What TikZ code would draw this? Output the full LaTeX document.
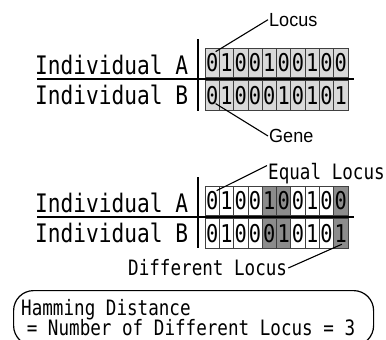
\documentclass[tikz,border=0pt]{standalone}
\usepackage{fontspec}
\usetikzlibrary{calc}
\newfontfamily\monof[FakeStretch=0.83]{DejaVu Sans Mono}
\newfontfamily\sansf[FakeStretch=0.95]{Liberation Sans}
\definecolor{lightcell}{gray}{0.85}
\definecolor{darkcell}{gray}{0.55}
\definecolor{gridline}{gray}{0.25}
\begin{document}
\begin{tikzpicture}[x=1pt,y=-1pt,
  gcell/.style={draw=gridline, line width=0.7pt, minimum width=14.3pt,
    minimum height=29.5pt, inner sep=0pt, anchor=center,
    font=\monof\fontsize{24.5}{24.5}\selectfont},
  indiv/.style={inner sep=0pt, anchor=base west, font=\monof\fontsize{25.5}{25.5}\selectfont},
  monolbl/.style={inner sep=1pt, font=\monof\fontsize{21.2}{21.2}\selectfont},
  sanslbl/.style={inner sep=1pt, font=\sansf\fontsize{19}{19}\selectfont},
  rule/.style={line width=1.4pt, black},
  conn/.style={line width=1.1pt, black}]
\useasboundingbox (0,0) rectangle (386,340);

% ---------- first pair ----------
\foreach \d [count=\i] in {0,1,0,0,1,0,0,1,0,0}
  \node[gcell, fill=lightcell] (ga\i) at ({205+(\i-0.5)*14.3}, 62.75) {\raisebox{-1.5pt}{\d}};
\foreach \d [count=\i] in {0,1,0,0,0,1,0,1,0,1}
  \node[gcell, fill=lightcell] (gb\i) at ({205+(\i-0.5)*14.3}, 95.25) {\d};

\node[indiv] (ia1) at (35,74) {Individual A};
\node[indiv] (ib1) at (35,104.5) {Individual B};
\draw[rule] (37,79) -- (354,79);
\draw[rule] (198,39) -- (198,111);

\node[sanslbl, anchor=west] (locus) at (268,19.7) {Locus};
\node[sanslbl, anchor=west] (gene) at (268,136) {Gene};
\draw[conn] ($(ga1.north)+(3.5,4)$) -- (locus.west);
\draw[conn] ($(gb1.south)+(3.5,-6.7)$) -- (gene.west);

% ---------- second pair ----------
\foreach \d/\f [count=\i] in {0/white,1/white,0/white,0/white,1/darkcell,0/darkcell,0/white,1/white,0/white,0/darkcell}
  \node[gcell, fill=\f] (ha\i) at ({205+(\i-0.5)*14.3}, 200.75) {\raisebox{-1.5pt}{\d}};
\foreach \d/\f [count=\i] in {0/white,1/white,0/white,0/white,0/darkcell,1/darkcell,0/white,1/white,0/white,1/darkcell}
  \node[gcell, fill=\f] (hb\i) at ({205+(\i-0.5)*14.3}, 233.25) {\d};

\node[indiv] (ia2) at (35,212) {Individual A};
\node[indiv] (ib2) at (35,242.5) {Individual B};
\draw[rule] (37,217) -- (354,217);
\draw[rule] (198,177) -- (198,248);

\node[monolbl, anchor=base west] (eq) at (267,179.5) {Equal Locus};
\node[monolbl, anchor=east] (diff) at (288.3,268) {Different Locus};
\draw[conn] ($(ha1.north)+(4.5,5)$) -- ($(eq.north west)+(0,3.5)$);
\draw[conn] ($(hb10.center)+(1,11)$) -- (diff.east);

% ---------- Hamming box ----------
\node[draw, line width=1.2pt, rounded corners=20pt, minimum width=360pt,
  minimum height=55pt, inner sep=0pt, anchor=north west] (hambox) at (13,290) {};
\node[monolbl, inner sep=0pt, anchor=base west] (ham1) at (21,315) {Hamming Distance};
\node[monolbl, inner sep=0pt, anchor=base west] (ham2) at (26.6,335.5) {= Number of Different Locus = 3};
\end{tikzpicture}
\end{document}
